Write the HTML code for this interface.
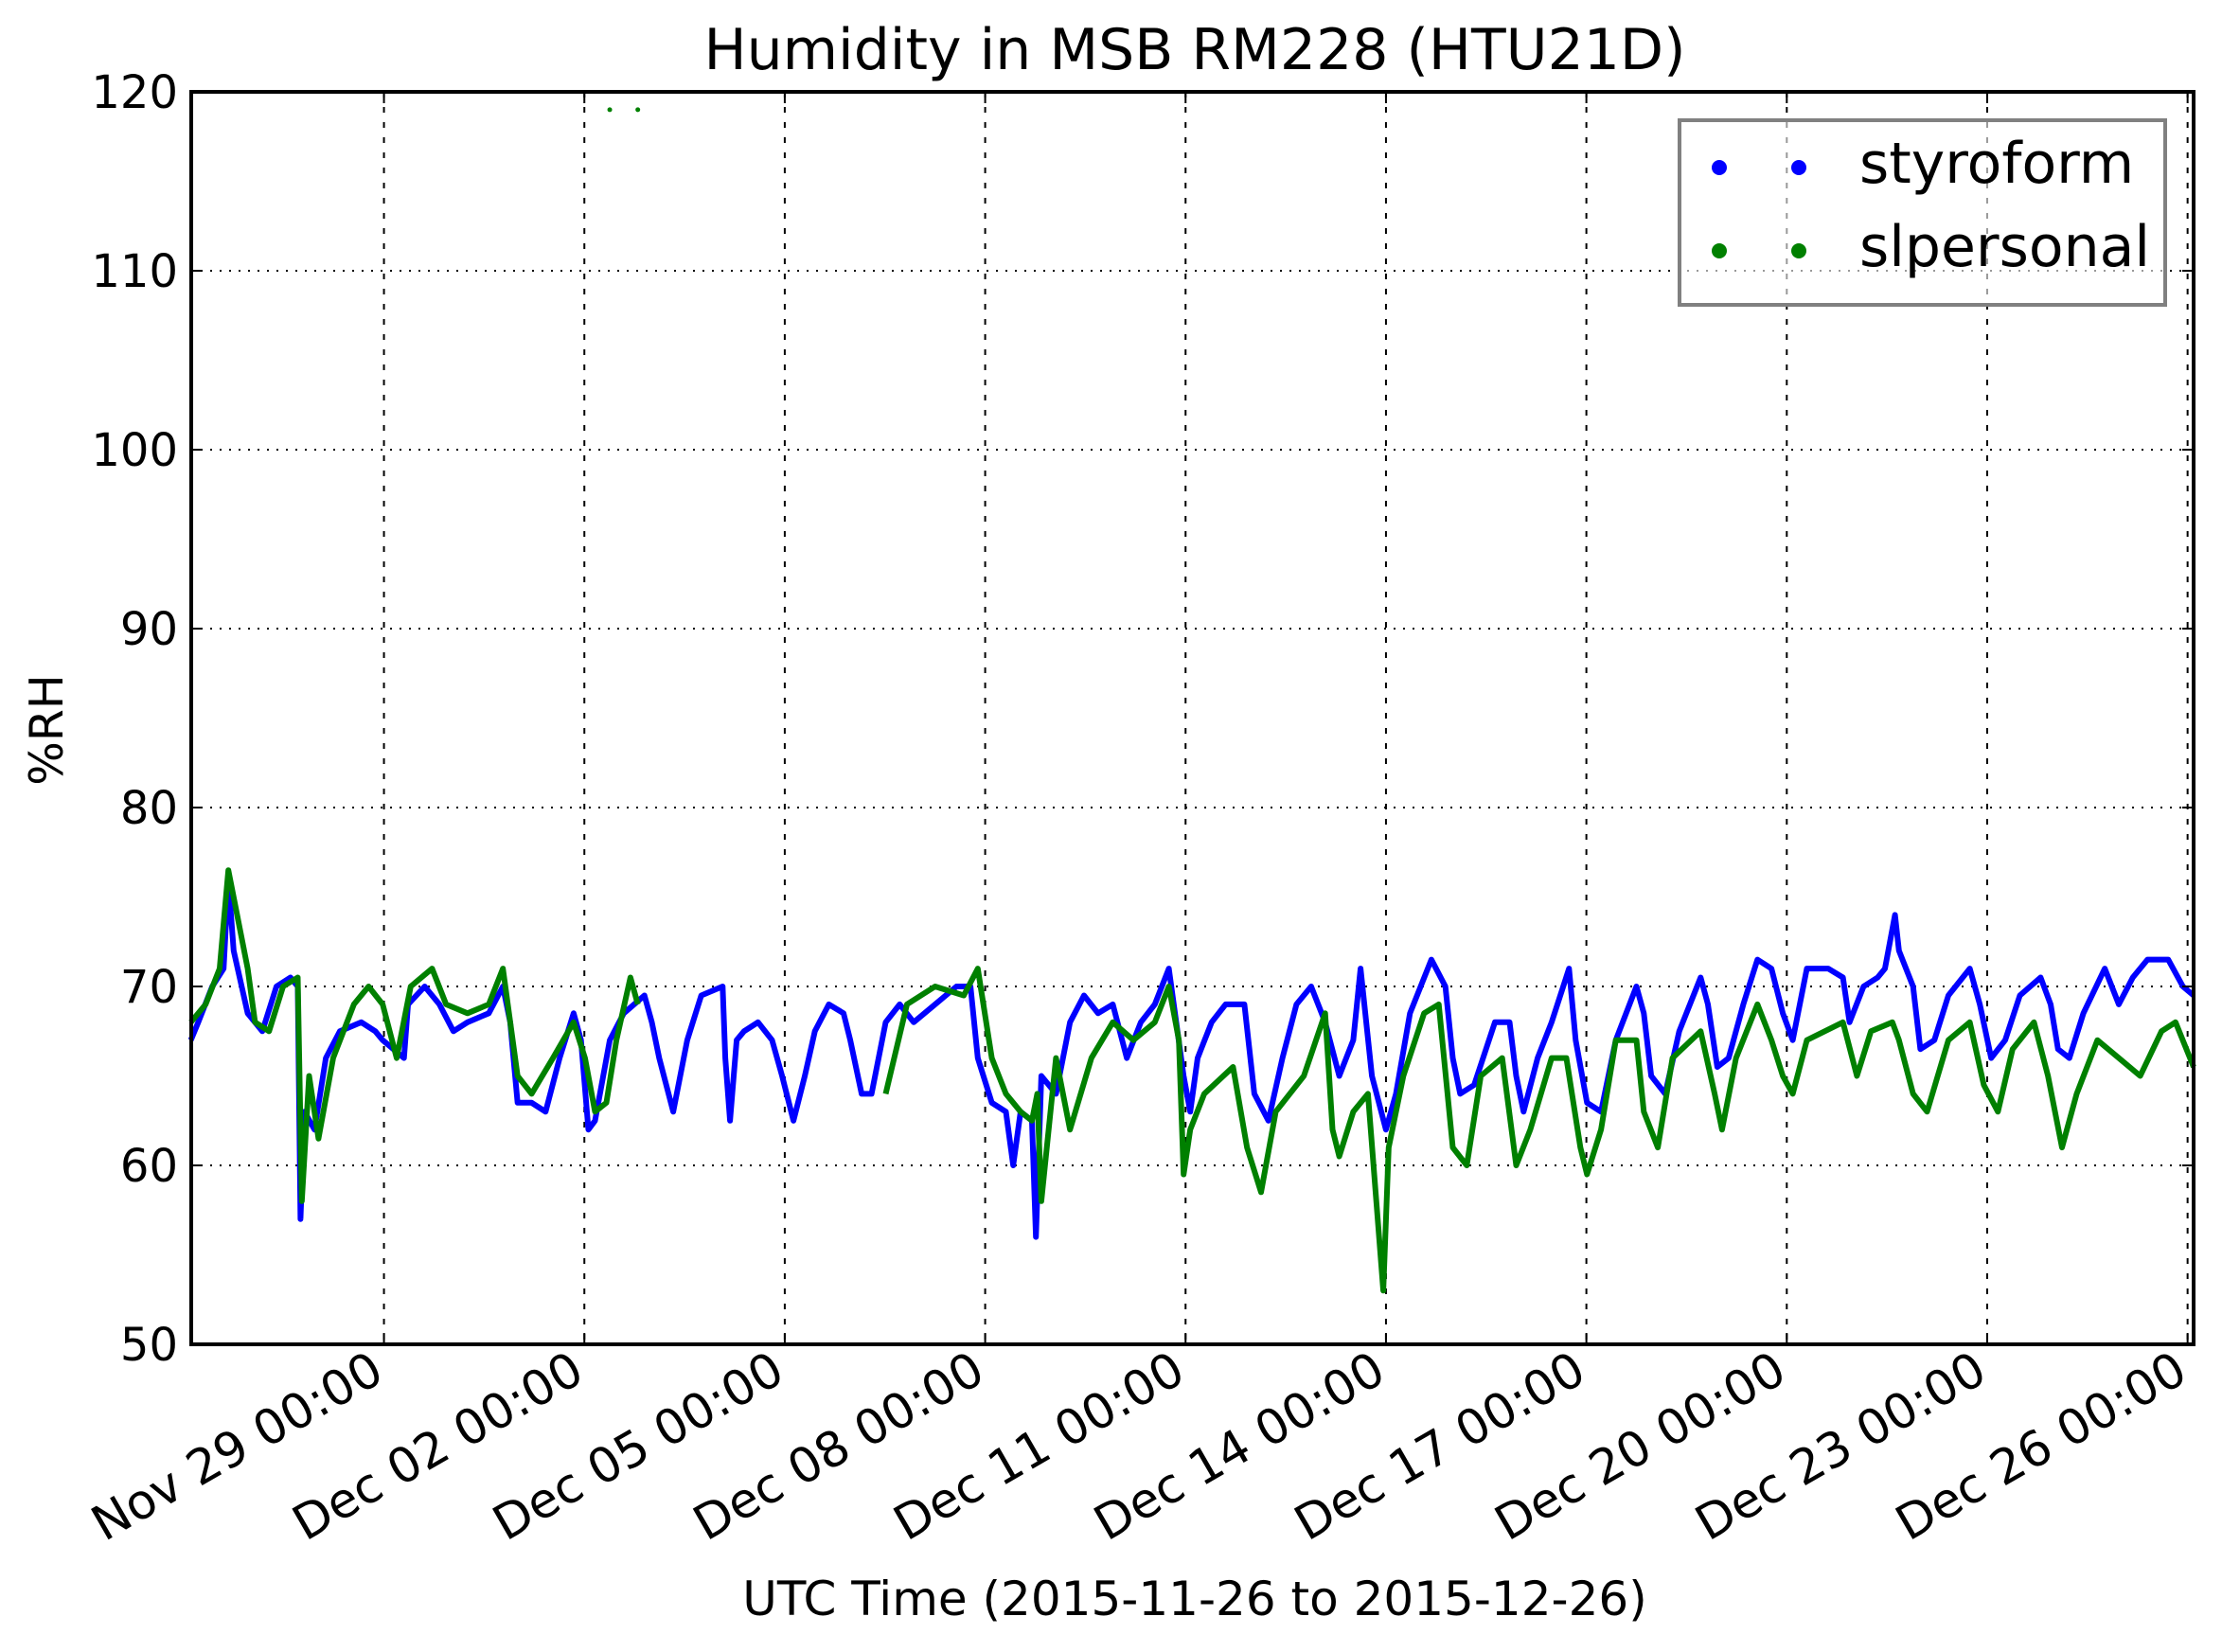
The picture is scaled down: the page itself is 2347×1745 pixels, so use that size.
<!DOCTYPE html>
<html><head><meta charset="utf-8"><style>
html,body{margin:0;padding:0;background:#fff}
svg{display:block;font-family:"DejaVu Sans","Liberation Sans",sans-serif}
</style></head><body>
<svg id="chart" width="2347" height="1745" viewBox="0 0 2347 1745" xmlns="http://www.w3.org/2000/svg">
<rect width="2347" height="1745" fill="#fff"/>
<text x="1262" y="73" font-size="60" text-anchor="middle">Humidity in MSB RM228 (HTU21D)</text>
<text transform="translate(66,771) rotate(-90)" font-size="49" text-anchor="middle">%RH</text>
<text x="1262" y="1706" font-size="50" text-anchor="middle">UTC Time (2015-11-26 to 2015-12-26)</text>
<g id="grid"></g>
<g id="series"></g>
<g id="axes"></g>
<g id="legend">
 <rect x="1774" y="127" width="513" height="195" fill="#fff" fill-opacity="0.6" stroke="#808080" stroke-width="4"/>
 <circle cx="1816" cy="177" r="8" fill="#0000ff"/>
 <circle cx="1900" cy="177" r="8" fill="#0000ff"/>
 <text x="1964" y="193" font-size="60">styroform</text>
 <circle cx="1816" cy="265" r="8" fill="#008000"/>
 <circle cx="1900" cy="265" r="8" fill="#008000"/>
 <text x="1964" y="281" font-size="60">slpersonal</text>
</g>
</svg>
<script>
// days since 2015-11-26 00:00 UTC
const yTicks = [50,60,70,80,90,100,110,120];
const xTickDays = [3,6,9,12,15,18,21,24,27,30];
const xTickLabels = ["Nov 29 00:00","Dec 02 00:00","Dec 05 00:00","Dec 08 00:00","Dec 11 00:00","Dec 14 00:00","Dec 17 00:00","Dec 20 00:00","Dec 23 00:00","Dec 26 00:00"];
const styroDays = [0.11,0.22,0.43,0.60,0.67,0.75,0.96,1.18,1.39,1.60,1.71,1.75,1.81,1.96,2.13,2.34,2.66,2.87,2.98,3.30,3.36,3.61,3.83,4.04,4.25,4.57,4.78,4.89,5.00,5.21,5.42,5.63,5.84,5.95,6.06,6.16,6.38,6.59,6.90,7.01,7.12,7.33,7.54,7.75,8.07,8.11,8.18,8.28,8.39,8.60,8.81,8.96,9.13,9.30,9.45,9.66,9.88,9.98,10.15,10.30,10.51,10.72,10.93,11.25,11.57,11.78,11.89,12.10,12.31,12.42,12.53,12.70,12.76,12.84,13.06,13.27,13.48,13.69,13.91,14.12,14.33,14.54,14.75,14.86,14.97,15.07,15.18,15.39,15.60,15.88,16.03,16.24,16.45,16.66,16.88,17.09,17.30,17.51,17.62,17.79,18.00,18.15,18.36,18.68,18.89,19.00,19.11,19.32,19.63,19.85,19.95,20.06,20.27,20.48,20.74,20.84,21.01,21.22,21.44,21.75,21.86,21.97,22.18,22.39,22.71,22.82,22.96,23.13,23.35,23.56,23.77,23.94,24.09,24.30,24.62,24.84,24.94,25.15,25.36,25.47,25.62,25.68,25.89,26.00,26.21,26.42,26.74,26.89,27.06,27.27,27.49,27.80,27.95,28.06,28.23,28.44,28.76,28.97,29.18,29.40,29.71,29.93,30.09];
const styroValues = [67,68,70,71,76,72,68.5,67.5,70,70.5,70,57,63,62,66,67.5,68,67.5,67,66,69,70,69,67.5,68,68.5,70,68,63.5,63.5,63,66,68.5,67,62,62.5,67,68.5,69.5,68,66,63,67,69.5,70,66,62.5,67,67.5,68,67,65,62.5,65,67.5,69,68.5,67,64,64,68,69,68,69,70,70,66,63.5,63,60,63,62.5,56,65,64,68,69.5,68.5,69,66,68,69,71,68,65,63,66,68,69,69,64,62.5,66,69,70,68,65,67,71,65,62,64,68.5,71.5,70,66,64,64.5,68,68,65,63,66,68,71,67,63.5,63,67,70,68.5,65,64,67.5,70.5,69,65.5,66,69,71.5,71,68.5,67,71,71,70.5,68,70,70.5,71,74,72,70,66.5,67,69.5,71,69,66,67,69.5,70.5,69,66.5,66,68.5,71,69,70.5,71.5,71.5,70,69.5];
const slDays = [0.11,0.33,0.54,0.67,0.96,1.07,1.28,1.49,1.71,1.77,1.88,2.02,2.24,2.55,2.77,2.98,3.19,3.40,3.72,3.93,4.25,4.57,4.78,5.00,5.21,5.53,5.84,6.01,6.16,6.33,6.48,6.69,6.80,10.30,10.51,10.83,11.25,11.68,11.89,12.10,12.31,12.53,12.70,12.78,12.84,13.06,13.27,13.59,13.91,14.22,14.54,14.75,14.90,14.97,15.07,15.28,15.71,15.92,16.13,16.35,16.77,17.09,17.20,17.30,17.51,17.73,17.96,18.04,18.26,18.57,18.79,19.00,19.21,19.42,19.74,19.95,20.16,20.48,20.70,20.91,21.01,21.22,21.44,21.75,21.86,22.07,22.29,22.71,22.92,23.03,23.24,23.56,23.77,23.94,24.09,24.30,24.84,25.05,25.26,25.58,25.68,25.89,26.10,26.42,26.74,26.95,27.16,27.38,27.70,27.91,28.12,28.34,28.65,28.97,29.29,29.61,29.82,30.09];
const slValues = [68,69,71,76.5,71,68,67.5,70,70.5,58,65,61.5,66,69,70,69,66,70,71,69,68.5,69,71,65,64,66,68,66,63,63.5,67,70.5,69,null,64,69,70,69.5,71,66,64,63,62.5,64,58,66,62,66,68,67,68,70,67,59.5,62,64,65.5,61,58.5,63,65,68.5,62,60.5,63,64,53,61,65,68.5,69,61,60,65,66,60,62,66,66,61,59.5,62,67,67,63,61,66,67.5,64,62,66,69,67,65,64,67,68,65,67.5,68,67,64,63,67,68,64.5,63,66.5,68,65,61,64,67,66,65,67.5,68,65.5];
const slOutlierDays = [6.38,6.80];
const slOutlierValues = [119,119];

const L=202,R=2317,T=97,B=1420, D0=0.115, D1=30.09, V0=50, V1=120;
const xs = d => L + (d-D0)/(D1-D0)*(R-L);
const ys = v => B - (v-V0)/(V1-V0)*(B-T);
const NS='http://www.w3.org/2000/svg';
function mk(tag, attrs, parent){const e=document.createElementNS(NS,tag);for(const k in attrs)e.setAttribute(k,attrs[k]);parent.appendChild(e);return e;}
const grid=document.getElementById('grid'), ser=document.getElementById('series'), ax=document.getElementById('axes');

yTicks.forEach(v=>{
  const y=ys(v);
  if(v>V0&&v<V1){const g=mk('line',{x1:L,x2:R,y1:y,y2:y,stroke:'#000','stroke-width':2,'stroke-dasharray':'2,8'},grid);
  
  }
  const t1=mk('line',{x1:L,x2:L+12,y1:y,y2:y,stroke:'#000','stroke-width':2},ax);
  
  
  const t2=mk('line',{x1:R-12,x2:R,y1:y,y2:y,stroke:'#000','stroke-width':2},ax);
  
  
  const tx=mk('text',{x:L-14,y:y+17,'font-size':48,'text-anchor':'end'},ax);
  
  
  tx.textContent=v;
});
xTickDays.forEach((d,i)=>{
  const x=xs(d);
  const g=mk('line',{x1:x,x2:x,y1:T,y2:B,stroke:'#000','stroke-width':2,'stroke-dasharray':'6,10'},grid);
  
  
  const t1=mk('line',{x1:x,x2:x,y1:B-12,y2:B,stroke:'#000','stroke-width':2},ax);
  
  
  const t2=mk('line',{x1:x,x2:x,y1:T,y2:T+12,stroke:'#000','stroke-width':2},ax);
  
  
  const tx=mk('text',{transform:`translate(${x-16},${B+5}) rotate(-30)`,'font-size':51,'text-anchor':'end','dominant-baseline':'hanging'},ax);
  
  
  tx.textContent=xTickLabels[i];
});
const frame=mk('rect',{x:L,y:T,width:R-L,height:B-T,fill:'none',stroke:'#000','stroke-width':4},ax);



function pathFor(days, vals){
  let s='', pen=false;
  days.forEach((d,i)=>{const v=vals[i]; if(v==null){pen=false;return;}
    s+=(pen?'L':'M')+xs(d).toFixed(1)+' '+ys(v).toFixed(1)+' '; pen=true;});
  return s;
}
const p1=mk('path',{d:pathFor(styroDays,styroValues),fill:'none',stroke:'#0000ff','stroke-width':6,'stroke-linejoin':'round'},ser);


const p2=mk('path',{d:pathFor(slDays,slValues),fill:'none',stroke:'#008000','stroke-width':6,'stroke-linejoin':'round'},ser);


slOutlierDays.forEach((d,i)=>{
  const c=mk('circle',{cx:xs(d),cy:ys(slOutlierValues[i]),r:2.5,fill:'#008000'},ser);
  
  
});
</script>
</body></html>
